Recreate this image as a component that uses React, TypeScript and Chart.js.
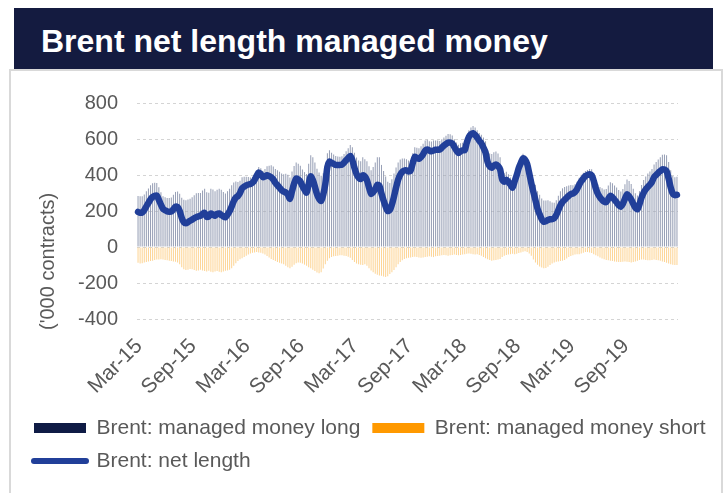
import React, { useEffect, useRef } from 'react';
import { Chart, registerables } from 'chart.js';

Chart.register(...registerables);

// ---- data (weekly, ~Mar 2015 to Feb 2020), thousand contracts ----
const tickLabels = ['Mar-15', 'Sep-15', 'Mar-16', 'Sep-16', 'Mar-17', 'Sep-17', 'Mar-18', 'Sep-18', 'Mar-19', 'Sep-19'];
const TICK_EVERY = 26;

const longPositions = [
  283, 282, 282, 291, 310, 325, 343, 354, 357, 356,
  332, 304, 282, 276, 272, 272, 275, 290, 306, 308,
  296, 274, 262, 260, 264, 268, 276, 288, 298, 300,
  300, 314, 324, 304, 302, 324, 320, 310, 318, 324,
  318, 306, 297, 310, 324, 343, 359, 364, 361, 368,
  388, 390, 390, 389, 386, 389, 402, 423, 444, 437,
  424, 434, 448, 452, 454, 447, 434, 427, 418, 408,
  404, 407, 402, 386, 420, 450, 470, 462, 452, 430,
  416, 406, 462, 510, 498, 469, 435, 414, 396, 410,
  446, 521, 537, 524, 514, 506, 503, 502, 504, 516,
  532, 548, 566, 554, 524, 497, 481, 476, 498, 488,
  476, 448, 426, 445, 470, 499, 498, 456, 422, 391,
  362, 355, 376, 408, 442, 470, 486, 492, 491, 487,
  480, 483, 521, 554, 551, 548, 560, 573, 592, 596,
  588, 586, 592, 592, 591, 589, 598, 608, 618, 628,
  626, 619, 598, 580, 568, 576, 579, 578, 618, 648,
  664, 672, 664, 648, 634, 624, 608, 587, 540, 520,
  516, 526, 530, 520, 498, 431, 410, 418, 404, 386,
  368, 405, 438, 474, 498, 518, 509, 490, 446, 403,
  375, 346, 310, 290, 269, 258, 259, 260, 254, 247,
  246, 260, 285, 310, 326, 334, 338, 341, 344, 343,
  348, 362, 385, 401, 412, 422, 428, 434, 432, 408,
  371, 347, 334, 326, 320, 322, 342, 360, 354, 342,
  330, 316, 308, 322, 348, 375, 366, 350, 324, 298,
  286, 310, 345, 372, 392, 408, 420, 434, 458, 472,
  486, 498, 512, 514, 510, 472, 426, 394, 388, 390,
];

const shortPositions = [
  -88, -92, -90, -86, -84, -80, -78, -76, -72, -70,
  -70, -68, -70, -72, -74, -76, -78, -80, -82, -86,
  -96, -112, -124, -128, -126, -122, -124, -128, -132, -130,
  -126, -130, -134, -136, -132, -138, -140, -136, -134, -138,
  -140, -136, -132, -130, -126, -118, -104, -90, -78, -68,
  -62, -55, -48, -42, -36, -32, -30, -28, -30, -32,
  -36, -42, -50, -58, -66, -72, -78, -84, -88, -92,
  -96, -104, -112, -118, -110, -98, -90, -86, -88, -92,
  -98, -104, -112, -118, -126, -134, -142, -146, -140, -120,
  -96, -76, -62, -56, -52, -50, -48, -46, -46, -48,
  -50, -54, -60, -72, -84, -92, -96, -98, -100, -96,
  -104, -118, -130, -140, -148, -154, -158, -160, -164, -166,
  -162, -150, -140, -128, -112, -96, -84, -74, -66, -62,
  -60, -58, -56, -54, -56, -58, -60, -58, -56, -54,
  -52, -54, -56, -52, -50, -48, -46, -44, -46, -48,
  -46, -44, -42, -44, -46, -44, -42, -40, -38, -36,
  -38, -40, -42, -40, -44, -48, -56, -62, -68, -72,
  -76, -74, -72, -70, -66, -56, -48, -44, -42, -40,
  -38, -40, -38, -34, -30, -26, -24, -28, -36, -48,
  -70, -86, -98, -108, -114, -118, -116, -110, -100, -92,
  -86, -82, -80, -78, -76, -72, -64, -56, -50, -46,
  -42, -40, -40, -36, -32, -28, -28, -30, -34, -40,
  -46, -52, -58, -64, -68, -72, -74, -76, -78, -80,
  -82, -84, -84, -82, -80, -82, -84, -86, -84, -80,
  -76, -72, -70, -70, -72, -74, -74, -72, -70, -72,
  -74, -76, -80, -84, -88, -92, -96, -98, -100, -100,
];

const netLength = [
  195, 190, 192, 205, 226, 245, 265, 278, 285, 286,
  262, 236, 212, 204, 198, 196, 197, 210, 224, 222,
  200, 162, 138, 132, 138, 146, 152, 160, 166, 170,
  174, 184, 190, 168, 170, 186, 180, 174, 184, 186,
  178, 170, 165, 180, 198, 225, 255, 274, 283, 300,
  326, 335, 342, 347, 350, 357, 372, 395, 414, 405,
  388, 392, 398, 394, 388, 375, 356, 343, 330, 316,
  308, 303, 290, 268, 310, 352, 380, 376, 364, 338,
  318, 302, 350, 392, 372, 335, 293, 268, 256, 290,
  350, 445, 475, 468, 462, 456, 455, 456, 458, 468,
  482, 494, 506, 482, 440, 405, 385, 378, 398, 392,
  372, 330, 296, 305, 322, 345, 340, 296, 258, 225,
  200, 205, 236, 280, 330, 374, 402, 418, 425, 425,
  420, 425, 465, 500, 495, 490, 500, 515, 536, 542,
  536, 532, 536, 540, 541, 541, 552, 564, 572, 580,
  580, 575, 556, 536, 522, 532, 537, 538, 580, 612,
  626, 632, 622, 608, 590, 576, 552, 525, 472, 448,
  440, 452, 458, 450, 432, 375, 362, 374, 362, 346,
  330, 365, 400, 440, 468, 492, 485, 462, 410, 355,
  305, 260, 212, 182, 155, 140, 143, 150, 154, 155,
  160, 178, 205, 232, 250, 262, 274, 285, 294, 297,
  306, 322, 345, 365, 380, 394, 400, 404, 398, 368,
  325, 295, 276, 262, 252, 250, 268, 284, 276, 262,
  248, 232, 224, 240, 268, 293, 282, 264, 240, 218,
  210, 238, 275, 302, 320, 334, 346, 362, 388, 400,
  412, 422, 432, 430, 422, 380, 330, 296, 288, 290,
];

const seriesNames = ['Brent: managed money long', 'Brent: managed money short', 'Brent: net length'];
const yAxisTitle = "('000 contracts)";
const yMin = -400;
const yMax = 800;
const yStep = 200;

// weekly report dates (categories)
const weeks = netLength.map((_, i) => new Date(Date.UTC(2015, 2, 3 + 7 * i)).toISOString().slice(0, 10));

const FONT = "'Liberation Sans', Arial, Helvetica, sans-serif";
const GREY = '#595959';
const NAVY = '#0f1b45';
const ORANGE = '#ff9900';
const BLUE = '#213f99';

// y-axis title, drawn next to the y scale (bottom-anchored like the original)
const yTitlePlugin = {
  id: 'yTitle',
  afterDraw(chart: any) {
    const s = chart.scales.y;
    const ctx = chart.ctx;
    ctx.save();
    ctx.translate(s.left + 26, chart.chartArea.bottom + 11);
    ctx.rotate(-Math.PI / 2);
    ctx.font = `20px ${FONT}`;
    ctx.fillStyle = GREY;
    ctx.textAlign = 'left';
    ctx.textBaseline = 'middle';
    ctx.fillText(yAxisTitle, 0, 0);
    ctx.restore();
  },
};

export default function App() {
  const ref = useRef<HTMLCanvasElement>(null);

  useEffect(() => {
    Chart.defaults.font.family = FONT;
    const chart = new Chart(ref.current!, {
      type: 'bar',
      data: {
        labels: weeks,
        datasets: [
          {
            type: 'line',
            label: seriesNames[2],
            data: netLength,
            borderColor: BLUE,
            backgroundColor: BLUE,
            borderWidth: 6.5,
            pointRadius: 0,
            tension: 0.3,
            borderCapStyle: 'round',
            borderJoinStyle: 'round',
            fill: false,
            order: 0,
            yAxisID: 'y',
          } as any,
          {
            type: 'bar',
            label: seriesNames[0],
            data: longPositions,
            backgroundColor: '#98a0b6',
            grouped: false,
            barPercentage: 0.5,
            categoryPercentage: 1,
            order: 1,
            yAxisID: 'y',
          } as any,
          {
            type: 'bar',
            label: seriesNames[1],
            data: shortPositions,
            backgroundColor: '#fdd596',
            grouped: false,
            barPercentage: 0.5,
            categoryPercentage: 1,
            order: 2,
            yAxisID: 'y',
          } as any,
        ],
      },
      options: {
        responsive: false,
        animation: false,
        devicePixelRatio: 1,
        layout: { padding: { left: 10, right: 0, top: 29, bottom: 11.5 } },
        plugins: {
          tooltip: { enabled: false },
          legend: {
            position: 'bottom',
            align: 'start',
            labels: {
              usePointStyle: true,
              pointStyleWidth: 52,
              boxHeight: 10,
              padding: 12,
              color: GREY,
              font: { size: 21, family: FONT },
              generateLabels: () => [
                { text: seriesNames[0], fillStyle: NAVY, strokeStyle: NAVY, lineWidth: 0, pointStyle: 'rect', fontColor: GREY, hidden: false, datasetIndex: 1 },
                { text: seriesNames[1], fillStyle: ORANGE, strokeStyle: ORANGE, lineWidth: 0, pointStyle: 'rect', fontColor: GREY, hidden: false, datasetIndex: 2 },
                { text: seriesNames[2], fillStyle: 'rgba(0,0,0,0)', strokeStyle: BLUE, lineWidth: 6, lineCap: 'round', pointStyle: 'line', fontColor: GREY, hidden: false, datasetIndex: 0 },
              ] as any,
            },
          },
        },
        scales: {
          x: {
            type: 'category',
            offset: true,
            grid: { display: false, drawTicks: false },
            border: { display: false },
            ticks: {
              autoSkip: false,
              minRotation: 45,
              maxRotation: 45,
              padding: 15,
              labelOffset: 1,
              color: GREY,
              font: { size: 21, family: FONT },
              callback: (_v: any, i: number) => (i % TICK_EVERY === 0 ? tickLabels[i / TICK_EVERY] ?? '' : ''),
            },
            afterFit: (s: any) => { s.height = 86.5; },
          },
          y: {
            type: 'linear',
            position: 'left',
            min: yMin,
            max: yMax,
            grid: { color: '#d4d4d4', lineWidth: 1, drawTicks: false },
            border: { display: false, dash: [3, 3] },
            ticks: {
              stepSize: yStep,
              padding: 19,
              color: GREY,
              font: { size: 20, family: FONT },
            },
            afterFit: (s: any) => { s.width = 115; },
          },
          yRight: {
            type: 'linear',
            position: 'right',
            display: true,
            grid: { display: false, drawTicks: false },
            border: { display: false },
            ticks: { display: false },
            afterFit: (s: any) => { s.width = 44; },
          },
        },
      },
      plugins: [yTitlePlugin],
    });
    return () => chart.destroy();
  }, []);

  return (
    <div style={{ position: 'absolute', left: 0, top: 0, width: 725, height: 493, background: '#ffffff', overflow: 'hidden' }}>
      <div
        style={{
          position: 'absolute', left: 9, top: 69, width: 714, height: 440,
          border: '2px solid #d9d9d9', boxSizing: 'border-box',
        }}
      />
      <div
        style={{
          position: 'absolute', left: 14, top: 8, width: 699, height: 61, background: '#141b40',
        }}
      >
        <div
          style={{
            position: 'absolute', left: 27, top: 17, color: '#ffffff',
            font: `bold 32px ${FONT}`, lineHeight: '32px', whiteSpace: 'nowrap',
          }}
        >
          Brent net length managed money
        </div>
      </div>
      <canvas ref={ref} width={710} height={421} style={{ position: 'absolute', left: 12, top: 72, width: 710, height: 421 }} />
    </div>
  );
}
